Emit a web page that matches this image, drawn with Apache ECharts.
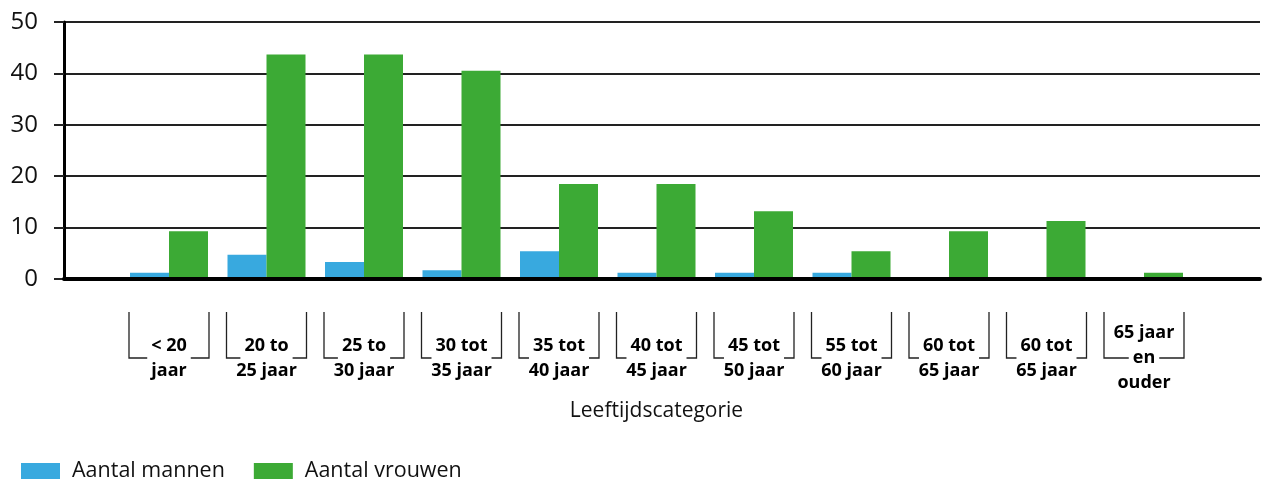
<!DOCTYPE html>
<html>
<head>
<meta charset="utf-8">
<script src="https://cdn.jsdelivr.net/npm/echarts@6/dist/echarts.min.js"></script>
<style>
html,body{margin:0;padding:0;background:#fff;}
#chart{width:1265px;height:483px;}
</style>
</head>
<body>
<div id="chart"></div>
<script>
const categories = ['< 20\njaar', '20 to\n25 jaar', '25 to\n30 jaar', '30 tot\n35 jaar', '35 tot\n40 jaar', '40 tot\n45 jaar', '45 tot\n50 jaar', '55 tot\n60 jaar', '60 tot\n65 jaar', '60 tot\n65 jaar', '65 jaar\nen\nouder'];
const menValues = [1.2, 4.7, 3.3, 1.7, 5.4, 1.2, 1.2, 1.2, 0, 0, 0];
const womenValues = [9.3, 43.7, 43.7, 40.5, 18.5, 18.5, 13.2, 5.4, 9.3, 11.3, 1.2];
const seriesNames = ['Aantal mannen', 'Aantal vrouwen'];
const axisTitle = 'Leeftijdscategorie';
const yMin = 0, yMax = 50, yInterval = 10;

const FONT = '"Open Sans", sans-serif';
const LABEL_SIZE = 18;

// measure the text line that the bracket's horizontal crosses
const mctx = document.createElement('canvas').getContext('2d');
mctx.font = 'bold ' + LABEL_SIZE + 'px "Open Sans"';
const gapHalf = categories.map(c => {
  const lines = c.split('\n');
  const line = lines[lines.length - 2];
  return mctx.measureText(line).width / 2 + 4;
});

const chart = echarts.init(document.getElementById('chart'), null, {renderer: 'canvas'});
const lineStyleB = {stroke: '#222', lineWidth: 1.3, fill: null};

chart.setOption({
  animation: false,
  backgroundColor: '#fff',
  grid: [
    {left: 120.25, right: 72.25, top: 22, bottom: 204},
    {left: 64, right: 5, top: 22, bottom: 204}
  ],
  legend: {
    data: seriesNames,
    left: 21, top: 460, padding: 0,
    icon: 'rect', itemWidth: 39, itemHeight: 16, itemGap: 29,
    textStyle: {fontFamily: FONT, fontSize: 21.5, color: '#111', padding: [0, 0, 0, 7]}
  },
  xAxis: [
    {
      gridIndex: 0, type: 'category', data: categories,
      axisLine: {show: false}, axisTick: {show: false}, splitLine: {show: false},
      axisLabel: {
        interval: 0, margin: 79, verticalAlign: 'middle', lineHeight: 25,
        fontFamily: FONT, fontSize: LABEL_SIZE, fontWeight: 'bold', color: '#000'
      },
      name: axisTitle, nameLocation: 'middle', nameGap: 120,
      nameTextStyle: {fontFamily: FONT, fontSize: 21, color: '#111'}
    },
    {
      gridIndex: 1, type: 'value', min: 0, max: 1, z: 5,
      axisLine: {show: true, lineStyle: {color: '#000', width: 4}},
      axisTick: {show: false}, axisLabel: {show: false}, splitLine: {show: false}
    }
  ],
  yAxis: [
    {gridIndex: 0, type: 'value', min: yMin, max: yMax, interval: yInterval, show: false},
    {
      gridIndex: 1, type: 'value', min: yMin, max: yMax, interval: yInterval,
      axisLine: {show: true, lineStyle: {color: '#000', width: 3}},
      axisTick: {show: true, length: 10, lineStyle: {color: '#222', width: 2}},
      axisLabel: {margin: 26, fontFamily: FONT, fontSize: 24, color: '#111'},
      splitLine: {show: true, lineStyle: {color: '#222', width: 2}}
    }
  ],
  series: [
    {
      name: seriesNames[0], type: 'bar', xAxisIndex: 0, yAxisIndex: 0,
      data: menValues, barGap: '0%', barCategoryGap: '20%',
      itemStyle: {color: '#38a9df'}
    },
    {
      name: seriesNames[1], type: 'bar', xAxisIndex: 0, yAxisIndex: 0,
      data: womenValues, barGap: '0%', barCategoryGap: '20%',
      itemStyle: {color: '#3caa35'}
    },
    {
      name: 'brackets', type: 'custom', xAxisIndex: 0, yAxisIndex: 0, silent: true,
      data: categories.map((c, i) => [i, 0]),
      encode: {x: 0, y: 1},
      renderItem: function (params, api) {
        const idx = api.value(0);
        const p = api.coord([idx, 0]);
        const cx = p[0], y0 = p[1];
        const hw = gapHalf[idx];
        const top = y0 + 33, bot = y0 + 79, bx = 40;
        return {
          type: 'group',
          children: [
            {type: 'polyline', shape: {points: [[cx - bx, top], [cx - bx, bot], [cx - hw, bot]]}, style: lineStyleB},
            {type: 'polyline', shape: {points: [[cx + hw, bot], [cx + bx, bot], [cx + bx, top]]}, style: lineStyleB}
          ]
        };
      }
    }
  ]
});
</script>
</body>
</html>
